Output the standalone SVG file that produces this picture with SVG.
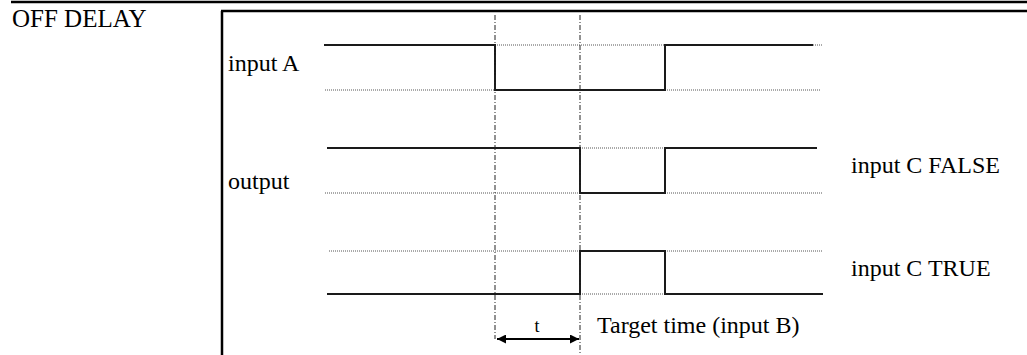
<svg xmlns="http://www.w3.org/2000/svg" width="1027" height="355" viewBox="0 0 1027 355">
<style>
.t{font-family:"Liberation Serif","Times New Roman",serif;font-size:24px;fill:#000}
.s{fill:none;stroke:#1a1a1a;stroke-width:2}
.d{fill:none;stroke:#555;stroke-width:1;stroke-dasharray:1 1}
.v{fill:none;stroke:#222;stroke-width:1;stroke-dasharray:5 2 1 2}
.f{fill:none;stroke:#000;stroke-width:2.5}
</style>
<defs>
<marker id="ah" viewBox="0 0 10 10" refX="10" refY="5" markerWidth="11" markerHeight="9" markerUnits="userSpaceOnUse" orient="auto-start-reverse">
<path d="M0,0 L10,5 L0,10 z" fill="#000"/>
</marker>
</defs>
<g id="frame">
<line class="f" x1="11" y1="2" x2="1027" y2="2"/>
<line class="f" x1="221" y1="11" x2="1027" y2="11"/>
<line class="f" x1="222" y1="11" x2="222" y2="355"/>
</g>
<g id="title"><text class="t" x="12" y="27" style="font-size:25px">OFF DELAY</text></g>
<g id="inputA">
<text class="t" x="228" y="71">input A</text>
<path class="d" d="M495,45 H823 M325,90 H495 M665,90 H820"/>
<path class="s" d="M324,45 H495 V90 H665 V45 H813"/>
</g>
<g id="output">
<text class="t" x="228" y="189">output</text>
<text class="t" x="851" y="173">input C FALSE</text>
<path class="d" d="M580,148 H665 M325,193 H580 M665,193 H822"/>
<path class="s" d="M327,148 H580 V193 H665 V148 H817"/>
</g>
<g id="inputCtrue">
<text class="t" x="851" y="276">input C TRUE</text>
<path class="d" d="M329,251 H580 M665,251 H823 M580,294 H665"/>
<path class="s" d="M327,294 H580 V251 H665 V294 H823"/>
</g>
<g id="connectors">
<line class="v" x1="495" y1="15" x2="495" y2="339"/>
<line class="v" x1="580" y1="15" x2="580" y2="353"/>
<line x1="497" y1="339" x2="579" y2="339" stroke="#000" stroke-width="2" marker-start="url(#ah)" marker-end="url(#ah)"/>
</g>
<g id="labels">
<text class="t" x="537" y="332" text-anchor="middle" style="font-size:18px">t</text>
<text class="t" x="597" y="333">Target time (input B)</text>
</g>
</svg>
